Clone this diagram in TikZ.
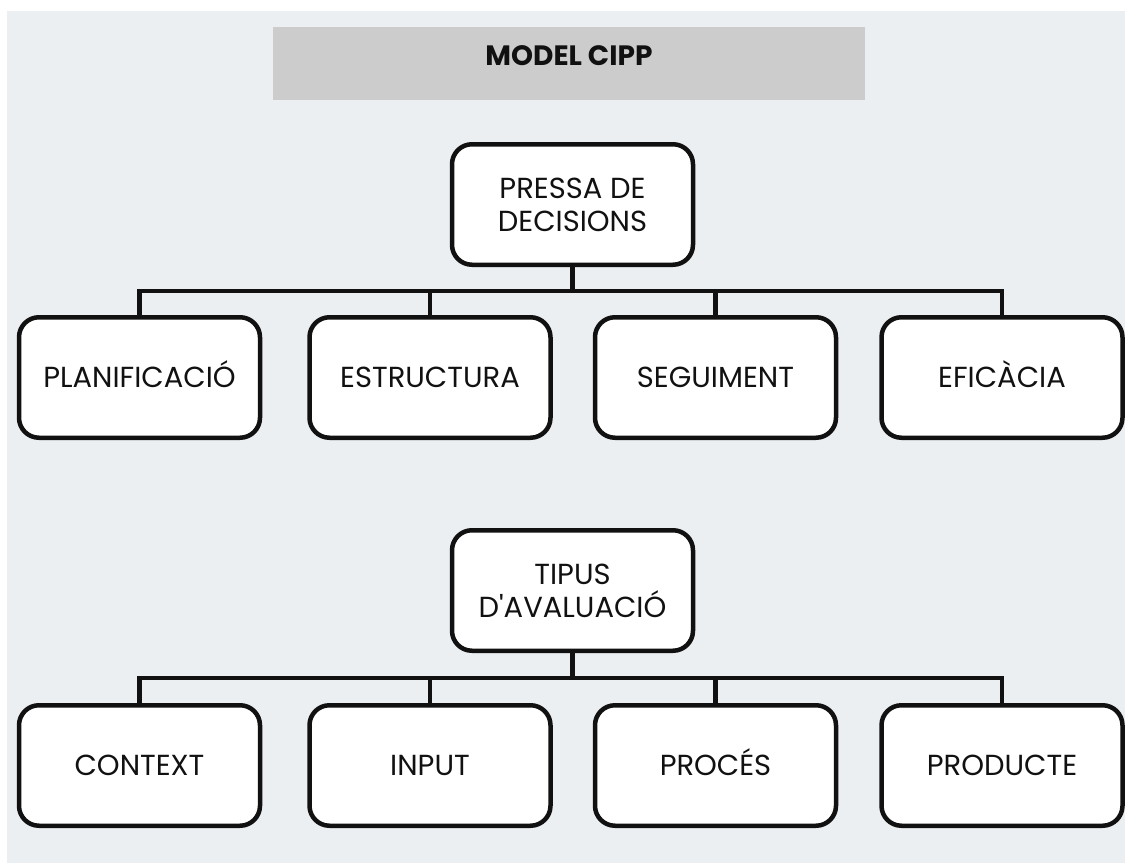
\documentclass[tikz,border=0pt]{standalone}
\usepackage{fontspec}
\setmainfont{Poppins}
\newfontfamily\plainpop{Poppins}
\definecolor{bgc}{HTML}{EBEFF2}
\definecolor{titlec}{HTML}{CCCCCC}
\definecolor{ink}{HTML}{111111}
\begin{document}
\begin{tikzpicture}[x=1pt,y=-1pt,
  box/.style={draw=ink,fill=white,line width=4.5pt,rounded corners=20pt,
    minimum width=241pt,minimum height=120.5pt,inner sep=0pt,align=center,
    font=\fontsize{29}{33}\selectfont,text=ink},
  one/.style={text height=20.3pt,text depth=0pt},
  conn/.style={draw=ink,line width=4.5pt}]
\useasboundingbox[fill=white] (0,0) rectangle (1125,865);
\fill[bgc] (7,11) rectangle (1125,863);
\fill[titlec] (273,27) rectangle (865,100);
\node[anchor=base,font=\bfseries\fontsize{28}{30}\selectfont,text=ink] (title) at (569,65) {MODEL CIPP};
% top tree
\node[box] (p1) at (572.5,204.5) {PRESSA DE\\DECISIONS};
\node[box,one] (a1) at (139.5,377.5) {PLANIFICACIÓ};
\node[box,one] (a2) at (430,377.5) {ESTRUCTURA};
\node[box,one] (a3) at (715.5,377.5) {SEGUIMENT};
\node[box,one] (a4) at (1002,377.5) {EFICÀCIA};
\coordinate (b1) at (572.5,291);
\foreach \c in {a1,a2,a3,a4}{
  \draw[conn] (p1.south) |- (\c.north |- b1) -- (\c.north);
}
% bottom tree
\node[box] (p2) at (572.5,590.5) {TIPUS\\D{\plainpop '}AVALUACIÓ};
\node[box,one] (c1) at (139.5,765.5) {CONTEXT};
\node[box,one] (c2) at (430,765.5) {INPUT};
\node[box,one] (c3) at (715.5,765.5) {PROCÉS};
\node[box,one] (c4) at (1002,765.5) {PRODUCTE};
\coordinate (b2) at (572.5,678);
\foreach \c in {c1,c2,c3,c4}{
  \draw[conn] (p2.south) |- (\c.north |- b2) -- (\c.north);
}
\end{tikzpicture}
\end{document}
